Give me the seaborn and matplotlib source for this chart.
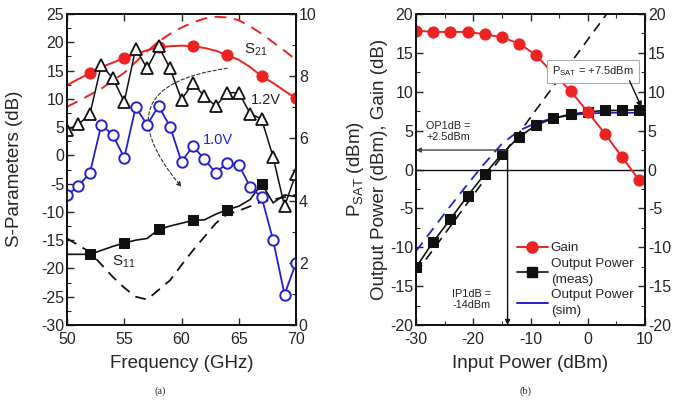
import numpy as np
import pandas as pd
import matplotlib
matplotlib.use('Agg')
import matplotlib.pyplot as plt
import seaborn as sns
from matplotlib.lines import Line2D
from matplotlib.ticker import MultipleLocator

sns.set_theme(style='ticks')
plt.rcParams['font.family'] = ['Liberation Sans', 'DejaVu Sans']
plt.rcParams['mathtext.fontset'] = 'custom'
plt.rcParams['mathtext.rm'] = 'Liberation Sans'
plt.rcParams['mathtext.it'] = 'Liberation Sans'
plt.rcParams['axes.unicode_minus'] = False

# ---------------- data: panel (a) ----------------
freq = [50, 51, 52, 53, 54, 55, 56, 57, 58, 59, 60, 61, 62, 63, 64, 65, 66, 67, 68, 69, 70]
s21_meas = [12.4, 13.5, 14.5, 15.6, 16.4, 17.2, 17.9, 18.6, 19.1, 19.3, 19.4, 19.3, 19.0, 18.5, 17.7, 16.9, 15.6, 14.0, 12.8, 11.4, 10.1]
s21_sim = [8.6, 9.6, 10.7, 11.8, 13.2, 14.6, 16.5, 18.4, 20.1, 21.5, 22.6, 23.5, 24.2, 24.5, 24.4, 23.9, 22.8, 21.5, 20.0, 18.5, 16.9]
s11_meas = [-17.5, -17.5, -17.5, -16.8, -16.1, -15.5, -15.0, -14.7, -13.1, -12.5, -12.0, -11.5, -11.4, -10.4, -9.6, -9.0, -7.8, -5.0, -8.4, -7.0, -7.3]
s11_sim = [-14.7, -15.9, -17.1, -19.3, -21.5, -23.4, -25.0, -25.5, -23.8, -22.1, -19.4, -16.8, -14.4, -12.0, -10.4, -9.8, -9.0, -8.2, -7.8, -7.4, -7.0]
psat_12v = [6.27, 6.45, 6.78, 8.36, 7.93, 7.18, 8.89, 8.25, 8.96, 8.25, 7.25, 7.78, 7.35, 7.04, 7.47, 7.47, 6.80, 6.62, 5.40, 3.82, 4.87]
psat_10v = [4.18, 4.47, 4.89, 6.44, 6.11, 5.38, 7.00, 6.44, 7.04, 6.38, 5.25, 5.75, 5.33, 4.89, 5.22, 5.15, 4.44, 4.11, 2.73, 0.98, 2.00]

# ---------------- data: panel (b) ----------------
pin = [-30, -27, -24, -21, -18, -15, -12, -9, -6, -3, 0, 3, 6, 9]
gain = [17.85, 17.7, 17.7, 17.7, 17.4, 17.0, 16.2, 14.7, 12.3, 10.1, 7.4, 4.6, 1.6, -1.4]
pout_meas = [-12.6, -9.3, -6.4, -3.4, -0.6, 2.0, 4.2, 5.7, 6.6, 7.1, 7.4, 7.6, 7.6, 7.7]
pin_sim = [-30, -27, -24, -21, -18, -15, -12, -9, -6, -3, 0, 3, 6, 9, 10]
pout_sim = [-10.5, -7.6, -4.7, -1.9, 0.8, 3.3, 5.0, 6.0, 6.6, 7.0, 7.2, 7.3, 7.3, 7.3, 7.3]
pin_lin = [-30, 5]
pout_lin = [-13.3, 21.7]

RED = '#ee2222'
BLUE = '#2222cc'
BLK = '#111111'

fig = plt.figure(figsize=(6.76, 4.03), dpi=100)
fig.patch.set_facecolor('white')

axA = fig.add_axes([67/676, 1-325/403, (296-67)/676, (325-14)/403])
axB = fig.add_axes([416/676, 1-325/403, (645-416)/676, (325-14)/403])
for ax in (axA, axB):
    ax.set_facecolor('white')

# ---- panel (a) left axis ----
sns.lineplot(x=freq, y=s21_sim, ax=axA, color=RED, lw=1.4, linestyle=(0, (6, 4)), errorbar=None)
sns.lineplot(x=freq, y=s21_meas, ax=axA, color=RED, lw=1.4, marker='o', ms=8, mec=RED,
             markevery=slice(2, None, 3), errorbar=None)
sns.lineplot(x=freq, y=s11_sim, ax=axA, color=BLK, lw=1.3, linestyle=(0, (6, 4)), errorbar=None)
sns.lineplot(x=freq, y=s11_meas, ax=axA, color=BLK, lw=1.2, marker='s', ms=6.5, mec=BLK,
             markevery=slice(2, 18, 3), errorbar=None)
axA.set_xlim(50, 70)
axA.set_ylim(-30, 25)
axA.xaxis.set_major_locator(MultipleLocator(5))
axA.yaxis.set_major_locator(MultipleLocator(5))
axA.yaxis.set_minor_locator(MultipleLocator(2.5))
axA.tick_params(axis='both', which='both', direction='in', labelsize=11.5, pad=2)
axA.tick_params(axis='x', which='major', top=True, length=5, width=1, pad=5)
axA.tick_params(axis='y', which='major', right=False, length=5, width=1)
axA.tick_params(axis='y', which='minor', right=False, length=3, width=0.8)
axA.set_xlabel('')
axA.set_ylabel('')

# curved arrow (dashed) in panel (a)
axA.annotate('', xy=(60.0, -5.6), xytext=(64.0, 15.4),
             arrowprops=dict(arrowstyle='-|>', connectionstyle='arc3,rad=0.9',
                             linestyle=(0, (3, 2)), lw=0.8, color='#333333',
                             mutation_scale=7, shrinkA=0, shrinkB=0))

axA.text(65.5, 18.6, 'S$_{21}$', fontsize=11, color='#222222', ha='left', va='center')
axA.text(66.1, 9.8, '1.2V', fontsize=10.5, color='#222222', ha='left', va='center')
axA.text(61.9, 2.7, '1.0V', fontsize=10.5, color=BLUE, ha='left', va='center')
axA.text(53.9, -18.8, 'S$_{11}$', fontsize=11, color='#222222', ha='left', va='center')

# ---- panel (a) right axis ----
axA2 = axA.twinx()
sns.lineplot(x=freq, y=psat_12v, ax=axA2, color=BLK, lw=1.1, marker='^', ms=8.5, mfc='white',
             mec=BLK, mew=1.3, errorbar=None)
sns.lineplot(x=freq, y=psat_10v, ax=axA2, color=BLUE, lw=1.3, marker='o', ms=7.5, mfc='white',
             mec=BLUE, mew=1.4, errorbar=None)
axA2.set_ylim(0, 10)
axA2.yaxis.set_major_locator(MultipleLocator(2))
axA2.yaxis.set_minor_locator(MultipleLocator(1))
axA2.tick_params(axis='y', which='both', direction='in', labelsize=11.5, pad=2)
axA2.tick_params(axis='y', which='major', length=5, width=1)
axA2.tick_params(axis='y', which='minor', length=3, width=0.8)
axA2.set_ylabel('')

# ---- panel (b) ----
axB.axhline(0, color=BLK, lw=1.0)
sns.lineplot(x=pin_lin, y=pout_lin, ax=axB, color=BLK, lw=1.2, linestyle=(0, (6, 4)), errorbar=None)
sns.lineplot(x=pin_sim, y=pout_sim, ax=axB, color=BLUE, lw=1.3, linestyle=(0, (6, 4)), errorbar=None)
sns.lineplot(x=pin, y=pout_meas, ax=axB, color=BLK, lw=1.2, marker='s', ms=7, mec=BLK, errorbar=None)
sns.lineplot(x=pin, y=gain, ax=axB, color=RED, lw=1.4, marker='o', ms=8, mec=RED, errorbar=None)
axB.set_xlim(-30, 10)
axB.set_ylim(-20, 20)
axB.xaxis.set_major_locator(MultipleLocator(10))
axB.xaxis.set_minor_locator(MultipleLocator(5))
axB.yaxis.set_major_locator(MultipleLocator(5))
axB.yaxis.set_minor_locator(MultipleLocator(2.5))
axB.tick_params(axis='both', which='both', direction='in', labelsize=11.5, pad=2, top=True)
axB.tick_params(axis='both', which='major', length=5, width=1)
axB.tick_params(axis='both', which='minor', length=3, width=0.8)
axB.tick_params(axis='x', which='major', pad=5)
axB.set_xlabel('')
axB.set_ylabel('')

axB2 = axB.twinx()
axB2.set_ylim(-20, 20)
axB2.yaxis.set_major_locator(MultipleLocator(5))
axB2.yaxis.set_minor_locator(MultipleLocator(2.5))
axB2.tick_params(axis='y', which='both', direction='in', labelsize=11.5, pad=2)
axB2.tick_params(axis='y', which='major', length=5, width=1)
axB2.tick_params(axis='y', which='minor', length=3, width=0.8)

# OP1dB / IP1dB markers
axB.annotate('', xy=(-30, 2.5), xytext=(-14, 2.5),
             arrowprops=dict(arrowstyle='-|>', lw=1.0, color='#444444', mutation_scale=7,
                             shrinkA=0, shrinkB=0))
axB.annotate('', xy=(-14, -20), xytext=(-14, 2.5),
             arrowprops=dict(arrowstyle='-|>', lw=1.0, color=BLK, mutation_scale=7,
                             shrinkA=0, shrinkB=0))
axB.text(-28.2, 4.9, 'OP1dB =\n+2.5dBm', fontsize=7.8, color='#222222', ha='left', va='center',
         linespacing=1.15)
axB.text(-23.7, -16.7, 'IP1dB =\n-14dBm', fontsize=7.8, color='#222222', ha='left', va='center',
         linespacing=1.15)
axB.text(0.9, 12.6, 'P$_{SAT}$ = +7.5dBm', fontsize=8, color='#222222', ha='center', va='center',
         bbox=dict(boxstyle='square,pad=0.45', fc='white', ec='#aaaaaa', lw=0.8), zorder=6)
axB.annotate('', xy=(9.4, 8.0), xytext=(7.3, 11.4),
             arrowprops=dict(arrowstyle='-|>', lw=1.0, color=BLK, mutation_scale=8,
                             shrinkA=0, shrinkB=0), zorder=7)

handles = [Line2D([], [], color=RED, lw=1.4, marker='o', ms=8, mec=RED),
           Line2D([], [], color=BLK, lw=1.2, marker='s', ms=7, mec=BLK),
           Line2D([], [], color=BLUE, lw=1.4)]
labels = ['Gain', 'Output Power\n(meas)', 'Output Power\n(sim)']
leg = fig.legend(handles, labels, loc='upper left', bbox_to_anchor=(517/676, 1-242/403),
                 frameon=False, fontsize=9.7, handlelength=2.3, handletextpad=0.2,
                 labelspacing=0.25, borderpad=0, borderaxespad=0)
for t in leg.get_texts():
    t.set_linespacing(1.45)

for ax in (axA, axA2, axB, axB2):
    for s in ax.spines.values():
        s.set_linewidth(1.3)
        s.set_color(BLK)

# axis titles
fig.text(15/676, 1-169/403, 'S-Parameters (dB)', rotation=90, fontsize=13.5, ha='center', va='center')
fig.text(181.5/676, 1-363/403, 'Frequency (GHz)', fontsize=13.5, ha='center', va='center')
fig.text(355/676, 1-169/403, 'P$_{SAT}$ (dBm)', rotation=90, fontsize=13.5, ha='center', va='center')
fig.text(379/676, 1-169/403, 'Output Power (dBm), Gain (dB)', rotation=90, fontsize=13.5,
         ha='center', va='center')
fig.text(530.5/676, 1-363/403, 'Input Power (dBm)', fontsize=13.5, ha='center', va='center')
fig.text(160/676, 1-391/403, '(a)', fontsize=7.5, family='Liberation Serif', ha='center', va='center')
fig.text(525/676, 1-391/403, '(b)', fontsize=7.5, family='Liberation Serif', ha='center', va='center')

fig.savefig('out.png', dpi=100, facecolor='white')
